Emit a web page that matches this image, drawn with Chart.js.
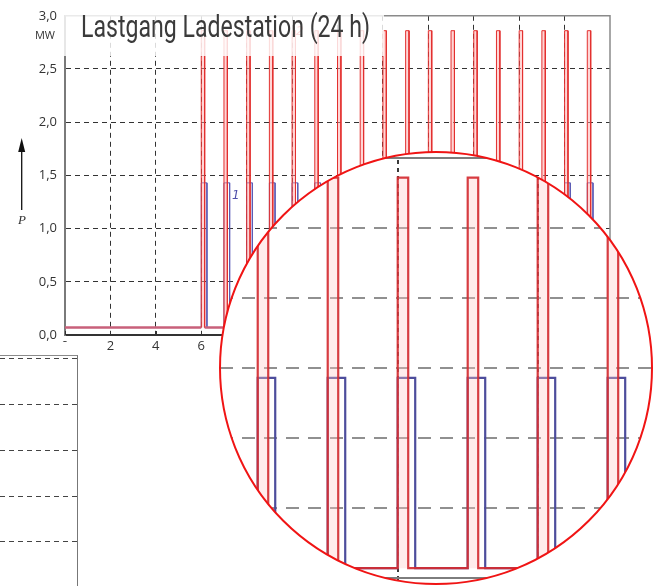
<!DOCTYPE html>
<html>
<head>
<meta charset="utf-8">
<script src="https://cdn.jsdelivr.net/npm/chart.js@4.4.1/dist/chart.umd.min.js"></script>
<style>
  html, body { margin: 0; padding: 0; background: #fff; }
  #wrap { position: relative; width: 654px; height: 586px; overflow: hidden; font-family: 'Open Sans', sans-serif; }
  canvas { position: absolute; }
  .txt { position: absolute; white-space: nowrap; }
  #mw { left: 31px; top: 27px; width: 24px; text-align: right; font-size: 11px; color: #333; }
  #pLabel { left: 18px; top: 212px; font: italic 13px 'Liberation Serif', serif; color: #333; }
  #tag1 { left: 232px; top: 188px; font: italic 12px 'DejaVu Sans', sans-serif; color: #5050aa; }
  #tag2 { left: 296px; top: 24px; font: italic 12px 'DejaVu Sans', sans-serif; color: #e03030; }
  #titleBox { position: absolute; left: 63px; top: 6px; width: 321px; height: 50px; background: rgba(255,255,255,0.82); }
  #title { left: 81px; top: 8px; font: 400 31px Roboto, sans-serif; color: #3b3b3b; transform-origin: 0 0; }
  #xcut { position: absolute; left: 56px; top: 342px; width: 22px; height: 12px; background: #fff; }
  #lowerFrame { position: absolute; left: -2px; top: 355px; width: 80px; height: 240px; box-sizing: border-box;
                border-top: 1.5px solid #8a8a8a; border-right: 1.5px solid #777; }
  #lens { position: absolute; left: 220px; top: 152px; width: 432px; height: 432px; border-radius: 50%; overflow: hidden; background: #fff; }
  #ring { position: absolute; left: 219px; top: 151px; width: 434px; height: 434px; border-radius: 50%;
          border: 2.5px solid #f01414; box-sizing: border-box; }
</style>
</head>
<body>
<div id="wrap">
  <canvas id="main" width="654" height="586" style="left:0;top:0"></canvas>
  <div class="txt" id="mw">MW</div>
  <div class="txt" id="pLabel">P</div>
  <svg style="position:absolute;left:14px;top:136px" width="16" height="78">
    <line x1="7.7" y1="12" x2="7.7" y2="74" stroke="#111" stroke-width="1.3"/>
    <polygon points="7.7,2 4.2,16 11.2,16" fill="#111"/>
  </svg>
  <div class="txt" id="tag1">1</div>
  <div class="txt" id="tag2">2</div>
  <div id="titleBox"></div>
  <div class="txt" id="title">Lastgang Ladestation (24 h)</div>
  <div id="xcut"></div>
  <canvas id="lower" width="78" height="231" style="left:0;top:355px"></canvas>
  <div id="lowerFrame"></div>
  <div id="lens"><canvas id="zoom" width="432" height="432" style="left:0;top:0"></canvas></div>
  <div id="ring"></div>
</div>
<script>
// charging events: start hour of each pulse
const startHours = [6, 7, 8, 9, 10, 11, 12, 13, 14, 15, 16, 17, 18, 19, 20, 21, 22, 23];
// peak power of the station (red) and of one charge point (blue), MW
const redPeakMW = [2.86, 2.86, 2.86, 2.86, 2.86, 2.86, 2.86, 2.86, 2.86, 2.86, 2.86, 2.86, 2.86, 2.86, 2.86, 2.86, 2.86, 2.86];
const bluePeakMW = [1.43, 1.43, 1.43, 1.43, 1.43, 1.43, 1.43, 1.43, 1.43, 1.43, 1.43, 1.43, 1.43, 1.43, 1.43, 1.43, 1.43, 1.43];
const baseMW = 0.07;
const redDurationH = 0.15;
const blueDurationH = 0.25;
const dayStart = 0, dayEnd = 24;
const lowerGridTicks = [0, 1, 2, 3, 4];

function pulses(peaks, dur) {
  const pts = [{ x: dayStart, y: baseMW }];
  startHours.forEach((h, i) => {
    pts.push({ x: h, y: baseMW }, { x: h, y: peaks[i] }, { x: h + dur, y: peaks[i] }, { x: h + dur, y: baseMW });
  });
  pts.push({ x: dayEnd, y: baseMW });
  return pts;
}

const isBase = c => c.p0.parsed.y === baseMW && c.p1.parsed.y === baseMW;
const comma = v => v.toFixed(1).replace('.', ',');

// title squeezed to the condensed width of the original
const t = document.getElementById('title');
t.style.transform = 'scaleX(' + (289 / t.getBoundingClientRect().width) + ')';

const frame = {
  id: 'frame',
  afterDraw(chart) {
    const { ctx, chartArea: a, scales: { x } } = chart;
    ctx.save();
    ctx.strokeStyle = '#8a8a8a';
    ctx.lineWidth = 1.5;
    ctx.beginPath();
    ctx.moveTo(a.left, a.top); ctx.lineTo(a.right, a.top); ctx.lineTo(a.right, a.bottom);
    ctx.stroke();
    ctx.strokeStyle = '#333';
    ctx.lineWidth = 1;
    x.ticks.forEach(tk => {
      const px = Math.round(x.getPixelForValue(tk.value)) + 0.5;
      ctx.beginPath(); ctx.moveTo(px, a.bottom); ctx.lineTo(px, a.bottom - 4); ctx.stroke();
    });
    ctx.restore();
  }
};

new Chart(document.getElementById('main'), {
  type: 'line',
  data: {
    datasets: [{
      label: 'Ladestation',
      data: pulses(redPeakMW, redDurationH),
      borderColor: '#e3302f',
      borderWidth: 1,
      backgroundColor: 'rgba(255,165,165,0.45)',
      fill: { value: baseMW },
      pointRadius: 0,
      segment: {
        borderColor: c => isBase(c) ? 'rgb(200,96,122)' : undefined,
        borderWidth: c => isBase(c) ? 2.5 : undefined
      }
    }, {
      label: 'Ladepunkt 1',
      data: pulses(bluePeakMW, blueDurationH),
      borderColor: '#5b5bb5',
      borderWidth: 1,
      fill: false,
      pointRadius: 0
    }]
  },
  options: {
    responsive: false,
    animation: false,
    devicePixelRatio: 1,
    layout: { padding: { top: 8, right: 44, left: 0, bottom: 0 } },
    plugins: { legend: { display: false }, tooltip: { enabled: false } },
    scales: {
      x: {
        type: 'linear', min: dayStart, max: dayEnd,
        afterFit: s => { s.height = 251; },
        ticks: { stepSize: 2, color: '#333', font: { family: 'Open Sans', size: 13 }, padding: 3, maxRotation: 0, autoSkip: false },
        grid: { color: c => (c.tick && (c.tick.value === dayStart || c.tick.value === dayEnd)) ? 'transparent' : '#333', lineWidth: 1, drawTicks: false },
        border: { color: '#333', width: 2, dash: [5, 4] }
      },
      y: {
        min: 0, max: 3,
        afterFit: s => { s.width = 65; },
        ticks: { stepSize: 0.5, callback: comma, color: '#333', font: { family: 'Open Sans', size: 13 }, padding: 8 },
        grid: { color: c => (c.tick && (c.tick.value === 0 || c.tick.value === 3)) ? 'transparent' : '#333', lineWidth: 1, drawTicks: false },
        border: { color: '#7a7a7a', width: 2, dash: [5, 4] }
      }
    }
  },
  plugins: [frame]
});

// lower-left fragment of a neighbouring chart (grid only)
new Chart(document.getElementById('lower'), {
  type: 'line',
  data: { labels: [], datasets: [{ data: [] }] },
  options: {
    responsive: false, animation: false, devicePixelRatio: 1,
    layout: { padding: 0 },
    plugins: { legend: { display: false }, tooltip: { enabled: false } },
    scales: {
      x: { display: false },
      y: {
        min: -0.962, max: 4.087,
        afterFit: s => { s.width = 0; },
        afterBuildTicks: s => { s.ticks = lowerGridTicks.map(v => ({ value: v })); },
        ticks: { display: false },
        grid: { color: '#444', lineWidth: 1, drawTicks: false },
        border: { display: false, dash: [5, 4] }
      }
    }
  }
});

// magnifier: same load profile, zoomed around noon
const edges = {
  id: 'edges',
  beforeDatasetsDraw(chart) {
    const { ctx, chartArea: a, scales: { y } } = chart;
    ctx.save();
    ctx.strokeStyle = '#7d7d7d';
    ctx.lineWidth = 2;
    [0, 3].forEach(v => {
      const py = y.getPixelForValue(v);
      ctx.beginPath(); ctx.moveTo(a.left, py); ctx.lineTo(a.right, py); ctx.stroke();
    });
    ctx.restore();
  }
};

new Chart(document.getElementById('zoom'), {
  type: 'line',
  data: {
    datasets: [{
      label: 'Ladestation',
      data: pulses(redPeakMW, redDurationH),
      borderColor: 'rgba(212,44,50,0.92)',
      borderWidth: 2.2,
      backgroundColor: 'rgba(255,200,200,0.35)',
      fill: { value: baseMW },
      pointRadius: 0
    }, {
      label: 'Ladepunkt 1',
      data: pulses(bluePeakMW, blueDurationH),
      borderColor: '#4d4d9c',
      borderWidth: 2.2,
      fill: false,
      pointRadius: 0
    }]
  },
  options: {
    responsive: false, animation: false, devicePixelRatio: 1,
    layout: { padding: 0 },
    plugins: { legend: { display: false }, tooltip: { enabled: false } },
    scales: {
      x: {
        type: 'linear', min: 9.461, max: 15.633,
        afterFit: s => { s.height = 0; },
        ticks: { display: false, stepSize: 2 },
        grid: { color: 'rgba(35,35,35,0.9)', lineWidth: 2, drawTicks: false },
        border: { display: false, dash: [4, 4] }
      },
      y: {
        min: -0.043, max: 3.043,
        afterFit: s => { s.width = 0; },
        ticks: { display: false, stepSize: 0.5 },
        grid: { color: c => (c.tick && (c.tick.value === 0 || c.tick.value === 3)) ? 'transparent' : 'rgba(125,125,125,0.85)', lineWidth: 2, drawTicks: false },
        border: { display: false, dash: [13, 9] }
      }
    }
  },
  plugins: [edges]
});
</script>
</body>
</html>
